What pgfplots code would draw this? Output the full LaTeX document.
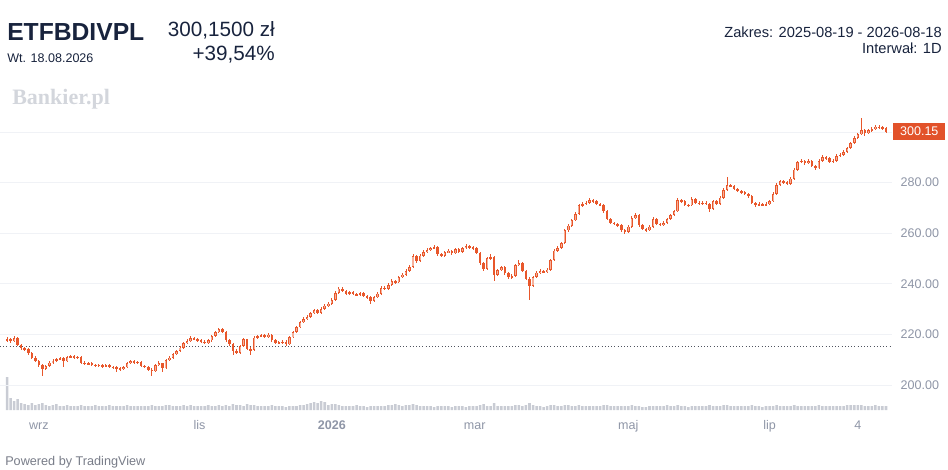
\documentclass[border=0pt]{standalone}
\usepackage{fontspec}
\setmainfont{Liberation Sans}
\newfontfamily\bankfont{Liberation Serif}
\usepackage{pgfplots}
\usepackage{pgfplotstable}
\pgfplotsset{compat=1.18}
\definecolor{navy}{HTML}{18233D}
\definecolor{tickgray}{HTML}{8E95A6}
\definecolor{gridcol}{HTML}{F0F2F6}
\definecolor{candle}{HTML}{E8572B}
\definecolor{candleup}{HTML}{F6B09A}
\definecolor{volgray}{HTML}{C9CCD4}
\definecolor{dotcol}{HTML}{50545F}
\definecolor{boxcol}{HTML}{E2522A}
\definecolor{bankgray}{HTML}{D3D6DC}
\definecolor{powgray}{HTML}{787C88}
\pgfplotstableread{
i o h l c v
0 217.4 218.9 216.9 218.0 33
1 218.0 218.5 216.8 217.3 12
2 217.3 219.3 217.0 218.6 9
3 218.6 218.9 215.6 216.0 11
4 216.0 216.4 214.0 214.6 7
5 214.6 215.2 213.6 214.2 6
6 214.2 214.8 212.0 212.5 5
7 212.5 213.0 210.2 210.8 7
8 210.8 211.4 209.0 209.6 5
9 209.6 210.0 207.2 207.8 6
10 207.8 208.3 203.6 206.4 7
11 206.4 208.0 205.8 207.5 5
12 207.5 209.4 207.0 208.9 4
13 208.9 210.1 208.4 209.6 5
14 209.6 210.8 209.0 210.2 6
15 210.2 211.2 209.8 210.6 4
16 210.6 211.0 207.2 209.3 4
17 209.3 211.4 209.0 210.9 5
18 210.9 211.8 210.5 211.3 4
19 211.3 211.7 210.3 210.8 4
20 210.8 211.6 210.4 211.1 4
21 211.1 211.4 208.5 208.9 5
22 208.9 209.3 207.9 208.4 4
23 208.4 209.1 208.0 208.6 4
24 208.6 209.0 207.5 208.0 4
25 208.0 208.5 207.1 207.6 5
26 207.6 208.4 207.2 207.9 4
27 207.9 208.3 206.9 207.4 4
28 207.4 208.3 207.0 207.8 4
29 207.8 208.2 206.8 207.3 5
30 207.3 207.7 206.3 206.9 4
31 206.9 207.5 205.3 206.7 4
32 206.7 207.2 205.7 206.3 4
33 206.3 207.5 205.8 207.0 4
34 207.0 209.0 206.7 208.6 5
35 208.6 209.9 208.2 209.4 4
36 209.4 209.8 208.3 208.8 4
37 208.8 209.6 208.4 209.1 4
38 209.1 209.4 207.0 207.6 4
39 207.6 208.0 206.7 207.2 4
40 207.2 207.6 205.6 206.1 4
41 206.1 206.6 203.6 205.4 5
42 205.4 208.4 205.1 207.9 4
43 207.9 209.3 207.5 208.7 4
44 208.7 208.9 205.0 206.6 4
45 206.6 210.3 206.2 209.8 5
46 209.8 211.4 209.4 210.8 5
47 210.8 212.7 210.4 212.2 4
48 212.2 213.9 211.8 213.4 4
49 213.4 215.3 213.0 214.8 4
50 214.8 217.2 214.4 216.6 5
51 216.6 218.0 216.2 217.4 4
52 217.4 219.2 217.0 218.5 5
53 218.5 219.0 217.6 218.1 4
54 218.1 218.6 217.2 217.7 4
55 217.7 218.2 216.7 217.2 4
56 217.2 217.7 216.2 216.8 4
57 216.8 218.1 216.4 217.6 5
58 217.6 219.9 217.2 219.4 4
59 219.4 221.3 219.0 220.8 4
60 220.8 222.7 220.4 222.0 5
61 222.0 222.4 220.5 221.0 4
62 221.0 221.3 217.1 217.6 5
63 217.6 218.0 215.6 216.1 4
64 216.1 216.5 211.8 213.6 6
65 213.6 214.1 212.2 212.7 5
66 212.7 215.9 212.3 215.4 5
67 215.4 218.6 215.0 218.0 4
68 218.0 218.3 213.7 214.2 6
69 214.2 215.0 212.0 213.8 5
70 213.8 219.2 213.4 218.7 5
71 218.7 219.8 218.3 219.2 4
72 219.2 220.1 218.8 219.6 4
73 219.6 220.0 218.6 219.1 4
74 219.1 220.6 218.7 219.9 4
75 219.9 220.2 217.2 217.7 5
76 217.7 218.1 216.1 216.6 4
77 216.6 217.3 216.1 216.8 4
78 216.8 217.8 216.4 217.2 4
79 217.2 217.6 215.6 216.1 3
80 216.1 219.3 215.8 218.8 4
81 218.8 221.4 218.4 220.9 4
82 220.9 223.3 220.5 222.8 4
83 222.8 225.5 222.4 224.9 5
84 224.9 226.7 224.5 226.1 5
85 226.1 227.5 225.6 226.9 6
86 226.9 229.0 226.5 228.4 7
87 228.4 230.2 228.0 229.6 8
88 229.6 230.0 228.1 228.6 7
89 228.6 230.7 228.2 230.1 9
90 230.1 232.0 229.7 231.4 8
91 231.4 232.8 231.0 232.2 5
92 232.2 234.2 231.8 233.6 6
93 233.6 237.0 233.2 236.4 6
94 236.4 238.8 236.0 238.1 5
95 238.1 238.6 236.6 237.1 4
96 237.1 237.5 235.5 236.0 4
97 236.0 237.2 235.6 236.6 4
98 236.6 237.1 235.4 235.9 4
99 235.9 236.4 235.1 235.6 5
100 235.6 236.8 235.2 236.2 4
101 236.2 236.6 234.6 235.1 4
102 235.1 235.6 234.1 234.6 3
103 234.6 235.0 232.0 233.4 4
104 233.4 235.1 233.0 234.6 4
105 234.6 236.6 234.2 236.1 4
106 236.1 239.0 235.7 238.4 4
107 238.4 239.0 237.5 238.0 4
108 238.0 240.2 237.6 239.6 5
109 239.6 241.8 239.2 241.2 5
110 241.2 241.7 240.1 240.6 6
111 240.6 243.2 240.2 242.6 5
112 242.6 244.2 242.2 243.6 4
113 243.6 245.7 243.2 245.1 5
114 245.1 247.3 244.7 246.6 5
115 246.6 251.6 246.2 251.0 6
116 251.0 251.4 248.4 249.0 5
117 249.0 251.7 248.6 251.1 4
118 251.1 253.2 250.7 252.6 4
119 252.6 254.0 252.2 253.4 4
120 253.4 254.7 253.0 254.1 4
121 254.1 255.3 253.7 254.6 3
122 254.6 254.9 251.1 251.6 4
123 251.6 252.0 250.5 251.0 4
124 251.0 253.0 250.6 252.4 4
125 252.4 253.7 252.0 253.1 4
126 253.1 253.5 251.5 252.0 3
127 252.0 254.2 251.6 253.6 4
128 253.6 254.0 252.1 252.6 4
129 252.6 254.7 252.2 254.1 4
130 254.1 255.6 253.7 255.0 3
131 255.0 255.5 253.9 254.4 4
132 254.4 254.9 253.5 254.0 4
133 254.0 254.4 251.6 252.1 4
134 252.1 252.4 247.6 248.1 5
135 248.1 248.5 245.0 246.0 6
136 246.0 250.7 245.6 250.1 4
137 250.1 251.8 249.6 250.6 4
138 250.6 250.9 241.2 243.6 7
139 243.6 246.0 243.1 245.4 4
140 245.4 247.2 245.0 246.6 4
141 246.6 247.0 243.6 244.1 4
142 244.1 244.5 242.0 242.6 4
143 242.6 243.7 242.1 243.1 4
144 243.1 248.0 242.7 247.4 5
145 247.4 249.6 247.0 248.1 5
146 248.1 248.5 244.6 245.1 4
147 245.1 245.5 241.5 242.1 5
148 242.1 242.5 233.6 239.2 7
149 239.2 243.2 238.8 242.6 5
150 242.6 245.0 242.2 244.4 4
151 244.4 245.7 244.0 245.1 4
152 245.1 245.6 244.1 244.6 3
153 244.6 246.2 244.2 245.6 4
154 245.6 250.0 245.2 249.4 5
155 249.4 253.7 249.0 253.1 5
156 253.1 255.0 252.6 254.1 4
157 254.1 256.7 253.7 256.1 4
158 256.1 261.7 255.7 261.1 5
159 261.1 263.6 260.6 263.0 5
160 263.0 265.7 262.6 265.1 4
161 265.1 268.2 264.7 267.6 4
162 267.6 271.6 267.2 271.0 5
163 271.0 272.2 270.5 271.6 4
164 271.6 272.8 271.1 272.1 4
165 272.1 273.8 271.7 273.0 4
166 273.0 273.5 272.1 272.6 4
167 272.6 273.0 271.1 271.6 4
168 271.6 272.0 270.6 271.1 4
169 271.1 271.5 268.1 268.6 5
170 268.6 269.0 265.1 265.6 5
171 265.6 266.0 263.6 264.1 4
172 264.1 264.6 263.1 263.6 4
173 263.6 264.1 262.4 263.1 4
174 263.1 263.5 260.6 261.1 4
175 261.1 261.6 259.8 260.6 4
176 260.6 263.2 260.2 262.6 4
177 262.6 266.7 262.2 266.1 5
178 266.1 267.9 265.6 267.1 4
179 267.1 267.4 262.6 263.1 4
180 263.1 263.5 261.1 261.6 3
181 261.6 262.1 260.5 261.1 3
182 261.1 263.2 260.7 262.6 4
183 262.6 266.3 262.2 265.6 4
184 265.6 266.0 263.1 263.6 4
185 263.6 264.2 262.8 263.4 4
186 263.4 264.7 263.0 264.1 4
187 264.1 266.2 263.7 265.6 5
188 265.6 267.7 265.2 267.1 4
189 267.1 269.3 266.7 268.6 4
190 268.6 273.8 268.2 273.1 5
191 273.1 273.6 272.1 272.6 4
192 272.6 273.0 270.6 271.1 4
193 271.1 271.7 270.4 271.0 3
194 271.0 274.2 270.6 273.6 4
195 273.6 274.0 271.6 272.1 4
196 272.1 272.6 271.1 271.6 4
197 271.6 272.7 271.2 272.1 4
198 272.1 272.6 271.1 271.6 4
199 271.6 272.0 268.4 269.6 5
200 269.6 273.2 269.2 272.6 4
201 272.6 273.0 271.1 271.6 4
202 271.6 274.7 271.2 274.1 4
203 274.1 277.7 273.7 277.1 5
204 277.1 282.2 276.7 279.1 5
205 279.1 279.6 278.1 278.6 4
206 278.6 279.0 277.1 277.6 4
207 277.6 278.0 276.1 276.6 4
208 276.6 277.1 275.6 276.1 4
209 276.1 276.6 275.0 275.6 4
210 275.6 276.0 274.1 274.6 4
211 274.6 275.0 271.6 272.1 5
212 272.1 272.5 270.4 271.1 4
213 271.1 272.2 270.6 271.6 4
214 271.6 272.0 270.6 271.1 3
215 271.1 272.2 270.7 271.6 4
216 271.6 273.2 271.2 272.6 4
217 272.6 276.2 272.2 275.6 4
218 275.6 279.7 275.2 279.1 5
219 279.1 281.2 278.7 280.6 4
220 280.6 281.1 279.6 280.1 4
221 280.1 280.6 279.0 279.6 4
222 279.6 282.2 279.2 281.6 4
223 281.6 285.7 281.2 285.1 5
224 285.1 288.7 284.7 288.1 4
225 288.1 289.3 287.6 288.6 4
226 288.6 289.0 287.1 287.6 4
227 287.6 289.2 287.2 288.6 4
228 288.6 289.0 286.1 286.6 4
229 286.6 287.0 285.0 285.6 4
230 285.6 289.2 285.2 288.6 5
231 288.6 290.8 288.2 290.1 4
232 290.1 290.6 289.1 289.6 4
233 289.6 290.0 287.6 288.1 4
234 288.1 289.2 287.7 288.6 4
235 288.6 291.2 288.2 290.6 4
236 290.6 291.8 290.2 291.1 4
237 291.1 292.7 290.7 292.1 4
238 292.1 294.2 291.7 293.6 5
239 293.6 296.2 293.2 295.6 5
240 295.6 298.3 295.2 297.6 5
241 297.6 299.7 297.2 299.1 5
242 299.1 305.6 298.7 300.6 5
243 300.6 301.1 298.5 299.6 4
244 299.6 301.2 299.2 300.6 4
245 300.6 301.8 300.1 301.1 4
246 301.1 302.8 300.7 302.1 5
247 302.1 302.6 301.0 301.6 4
248 301.6 302.3 300.9 301.6 4
249 301.6 302.0 299.8 300.15 4
}\data
\pgfplotsset{
  candlebar/.style 2 args={draw=none, mark=none, forget plot,
    error bars/.cd, y dir=both, y explicit, error mark=none,
    error bar style={line width=#1, draw=#2, solid}},
}
\begin{document}
\begin{tikzpicture}
\path[use as bounding box] (0,0) rectangle (711pt,-351.75pt);
% volume
\begin{axis}[at={(0pt,-307.5pt)}, anchor=south west, width=669pt, height=232.5pt,
  scale only axis, xmin=-2, xmax=250.7, ymin=0, ymax=310, hide axis]
\addplot[ybar, bar width=1.9pt, fill=volgray, draw=none] table[x=i,y=v]{\data};
\end{axis}
% price
\begin{axis}[at={(0pt,-307.5pt)}, anchor=south west, width=669pt, height=232.5pt,
  scale only axis, clip=false,
  xmin=-2, xmax=250.7, ymin=190.12, ymax=312.65,
  axis line style={draw=none}, major tick length=0pt,
  ymajorgrids, grid style={color=gridcol, line width=0.6pt},
  ytick={200,220,240,260,280,300},
  yticklabels={200.00,220.00,240.00,260.00,280.00,},
  yticklabel pos=right,
  yticklabel style={font=\fontsize{9.4}{11}\selectfont, text=tickgray, anchor=west, xshift=3pt},
  xtick={9,54.5,92,132.5,176,216,241},
  xticklabels={wrz,lis,{\textbf{2026}},mar,maj,lip,4},
  xticklabel style={font=\fontsize{9.4}{11}\selectfont, text=tickgray, anchor=base, yshift=-14.6pt},
]
\addplot[dash pattern=on 0.8pt off 1.6pt, line width=0.8pt, color=dotcol, mark=none] coordinates {(-2,215.1) (250.7,215.1)};
% wicks
\addplot[candlebar={0.6pt}{candle}]
  table[x=i, y expr={(\thisrow{h}+\thisrow{l})/2}, y error expr={(\thisrow{h}-\thisrow{l})/2}]{\data};
% down bodies
\addplot[candlebar={1.9pt}{candle}]
  table[x=i, y expr={(\thisrow{o}+\thisrow{c})/2},
        y error expr={ifthenelse(\thisrow{c}<\thisrow{o}, max((\thisrow{o}-\thisrow{c})/2,0.2), 0)}]{\data};
% up bodies
\addplot[candlebar={1.9pt}{candle}]
  table[x=i, y expr={(\thisrow{o}+\thisrow{c})/2},
        y error expr={ifthenelse(\thisrow{c}<\thisrow{o}, 0, max((\thisrow{c}-\thisrow{o})/2,0.2))}]{\data};
\addplot[candlebar={0.8pt}{candleup}]
  table[x=i, y expr={(\thisrow{o}+\thisrow{c})/2},
        y error expr={ifthenelse(\thisrow{c}<\thisrow{o}, 0, max((\thisrow{c}-\thisrow{o})/2-0.3,0))}]{\data};
\node[fill=boxcol, text=white, anchor=west, minimum width=39pt, minimum height=12.75pt, inner sep=0pt,
  font=\fontsize{9.4}{11}\selectfont, xshift=0.75pt] at ({rel axis cs:1,0}|-{axis cs:0,300.15}) {300.15};
\end{axis}
\begin{scope}[x=0.75pt,y=-0.75pt]
\node[anchor=base west, inner sep=0pt, text=navy, font=\fontsize{18.5}{20}\selectfont\bfseries] at (7,40) {ETFBDIVPL};
\node[anchor=base west, inner sep=0pt, text=navy, font=\fontsize{9.4}{11}\selectfont] at (7,62) {Wt. 18.08.2026};
\node[anchor=base east, inner sep=0pt, text=navy, font=\fontsize{15.5}{17}\selectfont] at (275,36) {300,1500 zł};
\node[anchor=base east, inner sep=0pt, text=navy, font=\fontsize{15.5}{17}\selectfont] at (275,60) {+39,54\%};
\node[anchor=base east, inner sep=0pt, text=navy, font=\fontsize{11}{13}\selectfont] at (942,37) {Zakres: 2025-08-19 - 2026-08-18};
\node[anchor=base east, inner sep=0pt, text=navy, font=\fontsize{11}{13}\selectfont] at (942,53) {Interwał: 1D};
\node[anchor=base west, inner sep=0pt, text=bankgray, font=\bankfont\fontsize{16.5}{18}\selectfont\bfseries] at (12,104) {Bankier.pl};
\node[anchor=base west, inner sep=0pt, text=powgray, font=\fontsize{9.5}{11}\selectfont] at (5,465) {Powered by TradingView};
\end{scope}
\end{tikzpicture}
\end{document}
